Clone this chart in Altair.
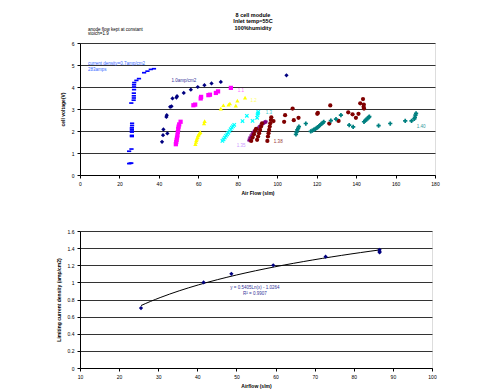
import altair as alt
import pandas as pd

FONT = "Liberation Sans"

# ---------------- top panel data ----------------
SERIES = ["1.0", "1.1", "1.2", "1.3", "1.35", "1.38", "1.40", "0.7"]
COLORS = ["#000080", "#FF00FF", "#FFFF00", "#00FFFF", "#800080", "#800000", "#008080", "#0000FF"]
XSHAPE = "M-1,-0.6L-0.6,-1L0,-0.4L0.6,-1L1,-0.6L0.4,0L1,0.6L0.6,1L0,0.4L-0.6,1L-1,0.6L-0.4,0Z"
STAR = ("M-1,-0.2L1,-0.2L1,0.2L-1,0.2Z M-0.2,-1L0.2,-1L0.2,1L-0.2,1Z "
        "M-0.85,-0.6L-0.6,-0.85L0.85,0.6L0.6,0.85Z M0.6,-0.85L0.85,-0.6L-0.6,0.85L-0.85,0.6Z")
DASH = "M-1,-0.4L1,-0.4L1,0.4L-1,0.4Z"
SHAPES = ["diamond", "square", "triangle-up", XSHAPE, STAR, "circle", "cross", DASH]

x_10 = [41.6, 42.1, 42.3, 44.3, 43.8, 44.0, 45.7, 46.4, 46.9, 48.9, 49.2, 52.6, 56.2, 59.7, 63.1, 66.7, 71.4, 104.7]
y_10 = [1.51, 1.81, 2.07, 1.89, 2.64, 2.72, 3.10, 3.12, 3.48, 3.52, 3.58, 3.73, 3.88, 4.00, 4.08, 4.16, 4.23, 4.53]

x_11 = [48.6, 48.8, 49.0, 49.2, 49.4, 49.6, 49.8, 50.0, 50.3, 51.0, 57.5, 58.4, 61.2, 61.4, 65.1, 65.9, 68.9, 70.0, 76.5]
y_11 = [1.40, 1.50, 1.60, 1.70, 1.80, 1.95, 2.10, 2.20, 2.30, 2.42, 3.17, 3.20, 3.48, 3.55, 3.63, 3.65, 3.73, 3.80, 3.96]

x_12 = [58.5, 58.8, 59.0, 59.3, 59.6, 59.9, 60.2, 60.6, 61.0, 62.9, 63.2, 71.4, 72.7, 75.3, 76.0, 79.0, 79.8, 83.7]
y_12 = [1.40, 1.50, 1.58, 1.65, 1.72, 1.80, 1.85, 1.90, 1.95, 2.35, 2.45, 3.02, 3.17, 3.20, 3.25, 3.15, 3.38, 3.52]

x_13 = [72.2, 72.8, 73.4, 74.0, 74.6, 75.2, 75.8, 76.4, 77.0, 77.6, 78.2, 82.4, 84.6, 87.5, 89.8, 90.0, 90.2, 90.4]
y_13 = [1.55, 1.62, 1.70, 1.78, 1.85, 1.92, 2.00, 2.08, 2.15, 2.22, 2.28, 2.45, 2.69, 2.46, 2.60, 2.72, 2.80, 2.87]

x_135 = [85.8, 86.2, 86.8, 87.5, 88.3, 89.0, 90.0, 91.0, 92.0, 93.0, 93.8, 94.2]
y_135 = [1.58, 1.68, 1.78, 1.88, 1.98, 2.06, 2.10, 2.20, 2.28, 2.35, 2.40, 2.42]

x_138 = [86.8, 87.5, 88.2, 88.8, 89.3, 89.8, 90.3, 90.8, 91.3, 91.8, 92.3, 95.0, 95.3, 95.6, 95.9, 96.2,
         96.5, 96.8, 97.0, 98.1, 103.5, 104.0, 107.8, 108.4, 110.8, 120.3, 120.6, 126.4, 126.9, 131.1,
         136.0, 138.2, 139.9, 141.2, 142.1, 143.5, 143.8, 144.0, 143.9]
y_138 = [1.55, 1.70, 1.85, 2.00, 2.10, 1.60, 1.75, 1.90, 2.05, 2.20, 2.35, 1.55, 1.75, 1.90, 2.05, 2.20,
         2.35, 2.50, 2.62, 2.45, 2.42, 2.72, 3.02, 2.49, 2.60, 2.78, 2.82, 2.34, 3.16, 2.46,
         2.85, 2.76, 2.60, 2.78, 3.26, 3.45, 3.10, 3.02, 3.20]

x_140 = [109.5, 109.8, 110.2, 110.6, 111.0, 114.5, 117.0, 117.8, 118.6, 119.4, 120.0, 120.6, 121.2, 121.8,
         122.4, 123.0, 123.6, 127.2, 129.8, 132.3, 136.5, 138.5, 144.0, 144.6, 145.2, 145.8, 146.4, 146.7,
         151.4, 157.3, 164.9, 168.1, 169.5, 169.8, 170.1, 170.4]
y_140 = [1.85, 1.95, 2.05, 2.12, 2.20, 2.34, 1.98, 2.02, 2.06, 2.10, 2.14, 2.18, 2.22, 2.27,
         2.32, 2.37, 2.42, 2.47, 2.54, 2.72, 2.27, 2.19, 2.42, 2.47, 2.52, 2.57, 2.62, 2.65,
         2.24, 2.34, 2.46, 2.46, 2.55, 2.62, 2.72, 2.80]

x_07 = [24.9, 25.5, 26.0, 24.9, 26.1, 26.3, 26.3, 26.3, 26.3, 26.3, 26.3, 26.4, 26.4, 26.0, 27.2, 27.3,
        27.3, 27.3, 27.4, 27.4, 27.4, 27.5, 28.6, 29.9, 32.5, 34.2, 35.9, 37.5]
y_07 = [0.52, 0.53, 0.54, 1.08, 1.18, 1.75, 1.80, 1.95, 2.00, 2.08, 2.15, 2.25, 2.35, 3.27, 3.40, 3.50,
        3.60, 3.72, 3.88, 4.00, 4.10, 4.20, 4.30, 4.38, 4.65, 4.72, 4.80, 4.83]

SERIES_X = [x_10, x_11, x_12, x_13, x_135, x_138, x_140, x_07]
SERIES_Y = [y_10, y_11, y_12, y_13, y_135, y_138, y_140, y_07]

LABEL_TEXT = ["current density=0.7amp/cm2", "283amps", "1.0amp/cm2", "1.1", "1.2", "1.3", "1.35", "1.38", "1.40"]
LABEL_X = [4.1, 4.1, 46.4, 80.0, 86.5, 94.2, 79.5, 98.3, 170.8]
LABEL_Y = [5.03, 4.79, 4.29, 3.84, 3.36, 2.80, 1.30, 1.48, 2.20]
LABEL_COLOR = ["#3366FF", "#3366FF", "#333399", "#FF66FF", "#FFFF66", "#33CCCC", "#CC99FF", "#993333", "#339999"]

X1_TICKS = [0, 20, 40, 60, 80, 100, 120, 140, 160, 180]
Y1_TICKS = [0, 1, 2, 3, 4, 5, 6]

TITLE_LINES = ["8 cell module", "Inlet temp=55C", "100%humidity"]
NOTE_LINES = ["anode flow kept at constant", "stoich=1.9"]

# ---------------- bottom panel data ----------------
AIRFLOW = [25.6, 41.6, 48.7, 59.4, 72.8, 86.6, 86.6, 86.6]
LIMIT_CD = [0.70, 1.00, 1.10, 1.20, 1.30, 1.38, 1.36, 1.35]
EQ_TEXT = ["y = 0.5405Ln(x) - 1.0264", "R² = 0.9907"]
EQ_X = [54.7, 54.7]
EQ_Y = [0.94, 0.87]
X2_TICKS = [10, 20, 30, 40, 50, 60, 70, 80, 90, 100]
Y2_TICKS = [0, 0.2, 0.4, 0.6, 0.8, 1.0, 1.2, 1.4, 1.6]

# ---------------- build ----------------
rows = []
for name, xs, ys in zip(SERIES, SERIES_X, SERIES_Y):
    for a, b in zip(xs, ys):
        rows.append({"series": name, "airflow": a, "voltage": b})
df_top = pd.DataFrame(rows)
df_lab = pd.DataFrame({"t": LABEL_TEXT, "airflow": LABEL_X, "voltage": LABEL_Y, "c": LABEL_COLOR})

W1, H1 = 355, 132
W2, H2 = 352, 137

axis_common = dict(
    labelFont=FONT, labelFontSize=5, labelColor="#000", titleFont=FONT, titleFontSize=5,
    titleFontWeight="bold", titleColor="#000", domainColor="#000", domainWidth=1,
    tickColor="#000", tickSize=3, tickWidth=1, labelOverlap=False, labelFlush=False,
)

x1 = alt.X("airflow:Q", scale=alt.Scale(domain=[0, 180], nice=False, zero=False),
           axis=alt.Axis(values=X1_TICKS, title="Air Flow (slm)", grid=False, labelPadding=3,
                         titlePadding=4, **axis_common))
y1 = alt.Y("voltage:Q", scale=alt.Scale(domain=[0, 6], nice=False),
           axis=alt.Axis(values=Y1_TICKS, title="cell voltage(V)", grid=True, gridColor="#333333",
                         gridWidth=1, labelPadding=3, titlePadding=6, **axis_common))

pts = alt.Chart(df_top).mark_point(filled=True, opacity=1, size=18, strokeWidth=0).encode(
    x=x1, y=y1,
    color=alt.Color("series:N", scale=alt.Scale(domain=SERIES, range=COLORS), legend=None),
    shape=alt.Shape("series:N", scale=alt.Scale(domain=SERIES, range=SHAPES), legend=None),
)
labs = alt.Chart(df_lab).mark_text(font=FONT, fontSize=4.5, align="left", baseline="middle").encode(
    x=x1, y=y1, text="t:N", color=alt.Color("c:N", scale=None))

layers = [pts, labs]
for line, ypos in zip(TITLE_LINES, [-28.5, -22, -15.5]):
    layers.append(alt.Chart(pd.DataFrame({"t": [line]})).mark_text(
        font=FONT, fontSize=5.5, fontWeight="bold", baseline="middle").encode(
        text="t:N", x=alt.value(173), y=alt.value(ypos)))
for line, ypos in zip(NOTE_LINES, [-13.5, -8.8]):
    layers.append(alt.Chart(pd.DataFrame({"t": [line]})).mark_text(
        font=FONT, fontSize=4.5, align="left", baseline="middle").encode(
        text="t:N", x=alt.value(8), y=alt.value(ypos)))

top = alt.layer(*layers).properties(width=W1, height=H1)

df_bot = pd.DataFrame({"airflow": AIRFLOW, "lcd": LIMIT_CD})
df_eq = pd.DataFrame({"t": EQ_TEXT, "airflow": EQ_X, "lcd": EQ_Y})
x2 = alt.X("airflow:Q", scale=alt.Scale(domain=[10, 100], nice=False, zero=False),
           axis=alt.Axis(values=X2_TICKS, title="Airflow (slm)", grid=False, labelPadding=3,
                         titlePadding=4, **axis_common))
y2 = alt.Y("lcd:Q", scale=alt.Scale(domain=[0, 1.6], nice=False),
           axis=alt.Axis(values=Y2_TICKS, title="Limiting current density (amp/cm2)", grid=True,
                         gridColor="#333333", gridWidth=1, labelPadding=3, titlePadding=6,
                         labelExpr="format(datum.value, '~g')", **axis_common))
trend = alt.Chart(df_bot).transform_regression(
    "airflow", "lcd", method="log", extent=[min(AIRFLOW), max(AIRFLOW)]
).mark_line(color="#000000", strokeWidth=1).encode(x=x2, y=y2)
bpts = alt.Chart(df_bot).mark_point(filled=True, opacity=1, size=18, strokeWidth=0, shape="diamond",
                                   color="#000080").encode(x=x2, y=y2)
eq = alt.Chart(df_eq).mark_text(font=FONT, fontSize=4.5, color="#333399", baseline="middle").encode(
    x=x2, y=y2, text="t:N")
bottom = alt.layer(trend, bpts, eq).properties(width=W2, height=H2)

chart = alt.vconcat(top, bottom, spacing=32).properties(
    padding={"left": 47, "top": 4, "right": 5, "bottom": 0}
).configure_view(stroke="#808080", strokeWidth=1).configure(background="white")

chart.save("out.html", embed_options={"renderer": "svg", "actions": False})
